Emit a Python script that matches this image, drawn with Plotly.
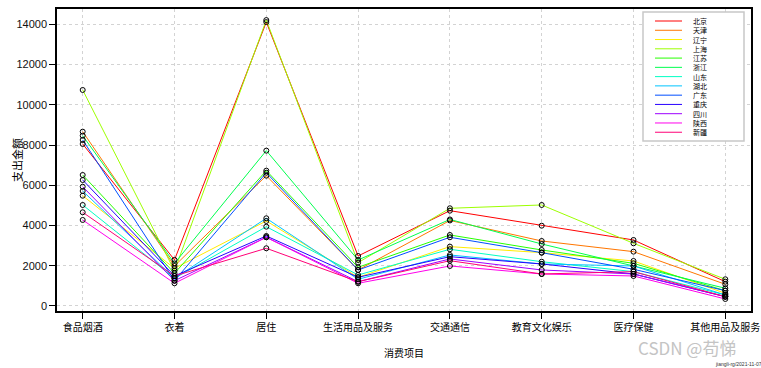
import plotly.graph_objects as go

categories = ["食品烟酒", "衣着", "居住", "生活用品及服务", "交通通信", "教育文化娱乐", "医疗保健", "其他用品及服务"]
provinces = ["北京", "天津", "辽宁", "上海", "江苏", "浙江", "山东", "湖北", "广东", "重庆", "四川", "陕西", "新疆"]
colors = ["#FF0000", "#FF7600", "#FFEC00", "#9DFF00", "#27FF00", "#00FF4E", "#00FFC4",
          "#00C4FF", "#004EFF", "#2700FF", "#9D00FF", "#FF00EC", "#FF0076"]

beijing   = [8051, 2290, 14110, 2485, 4736, 3990, 3280, 1208]
tianjin   = [8663, 1988, 6476, 1789, 4250, 3230, 2700, 1078]
liaoning  = [5480, 1870, 4225, 1426, 2950, 2650, 2236, 630]
shanghai  = [10735, 1750, 14209, 2152, 4856, 5020, 3115, 1327]
jiangsu   = [6511, 1625, 6725, 1923, 3529, 2783, 2120, 760]
zhejiang  = [8464, 2120, 7720, 2286, 4300, 3081, 1988, 880]
shandong  = [5020, 1376, 3941, 1541, 2818, 2200, 1705, 547]
hubei     = [5714, 1376, 4358, 1327, 2535, 2087, 1988, 547]
guangdong = [8250, 1257, 6625, 1789, 3414, 2650, 1824, 760]
chongqing = [6260, 1491, 3479, 1426, 2450, 2087, 1590, 462]
sichuan   = [5928, 1257, 3414, 1208, 2336, 1789, 1590, 462]
shaanxi   = [4274, 1128, 3414, 1128, 1988, 1590, 1491, 348]
xinjiang  = [4656, 1491, 2868, 1208, 2250, 1590, 1705, 462]

series = [beijing, tianjin, liaoning, shanghai, jiangsu, zhejiang, shandong,
          hubei, guangdong, chongqing, sichuan, shaanxi, xinjiang]

yticks = [0, 2000, 4000, 6000, 8000, 10000, 12000, 14000]

W, H = 761, 368
ML, MR, MT, MB = 57, 10, 9, 57
PW, PH = W - ML - MR, H - MT - MB

def px(x):
    return (x - ML) / PW

def py(y):
    return (H - MB - y) / PH

FONT = "Liberation Sans, Arial, Noto Sans CJK SC"
CJK = "Noto Sans CJK SC, Liberation Sans"

fig = go.Figure()
xs = list(range(1, len(categories) + 1))
for name, col, vals in zip(provinces, colors, series):
    fig.add_trace(go.Scatter(x=xs, y=vals, mode="lines", name=name,
                             line=dict(color=col, width=1), showlegend=False))
for name, vals in zip(provinces, series):
    fig.add_trace(go.Scatter(x=xs, y=vals, mode="markers", showlegend=False,
                             marker=dict(symbol="circle-open", color="black", size=5,
                                         line=dict(width=1, color="black"))))

shapes = []
annotations = []
# legend box
shapes.append(dict(type="rect", xref="paper", yref="paper",
                   x0=px(643), x1=px(744), y0=py(141), y1=py(12),
                   line=dict(color="#C8C8C8", width=1.5), fillcolor="white", layer="above"))
for i, (name, col) in enumerate(zip(provinces, colors)):
    yy = 21 + i * 9.27
    shapes.append(dict(type="line", xref="paper", yref="paper",
                       x0=px(655), x1=px(682), y0=py(yy), y1=py(yy),
                       line=dict(color=col, width=1), layer="above"))
    annotations.append(dict(xref="paper", yref="paper", x=px(700), y=py(yy),
                            text=name, showarrow=False, xanchor="center", yanchor="middle",
                            borderpad=0,
                            font=dict(family=CJK, size=7, color="black")))

annotations.append(dict(xref="paper", yref="paper", x=0.5, y=py(352), text="消费项目",
                        showarrow=False, xanchor="center", yanchor="middle",
                        font=dict(family=CJK, size=10, color="black")))
annotations.append(dict(xref="paper", yref="paper", x=px(17), y=0.5, text="支出金额",
                        showarrow=False, textangle=-90, xanchor="center", yanchor="middle",
                        font=dict(family=CJK, size=11, color="black")))
annotations.append(dict(xref="paper", yref="paper", x=px(687), y=py(347), text="CSDN @苟悌",
                        showarrow=False, xanchor="center", yanchor="middle", borderpad=0,
                        font=dict(family=CJK, size=17, color="#C4C4C4")))
annotations.append(dict(xref="paper", yref="paper", x=px(738), y=py(364), text="jiangli-rg/2021-11-07",
                        showarrow=False, xanchor="center", yanchor="middle", borderpad=0,
                        font=dict(family=FONT, size=5, color="#333333")))

fig.update_layout(
    width=W, height=H,
    margin=dict(l=ML, r=MR, t=MT, b=MB, pad=0),
    paper_bgcolor="white", plot_bgcolor="white",
    font=dict(family=FONT, size=10, color="black"),
    shapes=shapes, annotations=annotations,
    showlegend=False,
)
fig.update_xaxes(range=[0.72, 8.28], tickmode="array", tickvals=xs, ticktext=categories,
                 tickfont=dict(family=CJK, size=10, color="black"), automargin=False,
                 showline=True, linecolor="black", linewidth=1.5, mirror=True,
                 ticks="outside", ticklen=6, tickcolor="black",
                 showgrid=True, gridcolor="#D3D3D3", griddash="3px,3px", gridwidth=1,
                 zeroline=False)
fig.update_yaxes(range=[-250, 14760], tickmode="array", tickvals=yticks,
                 ticktext=[str(v) for v in yticks], automargin=False,
                 tickfont=dict(family=FONT, size=11, color="#111111"),
                 showline=True, linecolor="black", linewidth=1.5, mirror=True,
                 ticks="outside", ticklen=6, tickcolor="black",
                 showgrid=True, gridcolor="#D3D3D3", griddash="3px,3px", gridwidth=1,
                 zeroline=False)

fig.write_html("out.html", config={"displayModeBar": False},
               post_script="document.body.style.margin='0';document.body.style.overflow='hidden';")
